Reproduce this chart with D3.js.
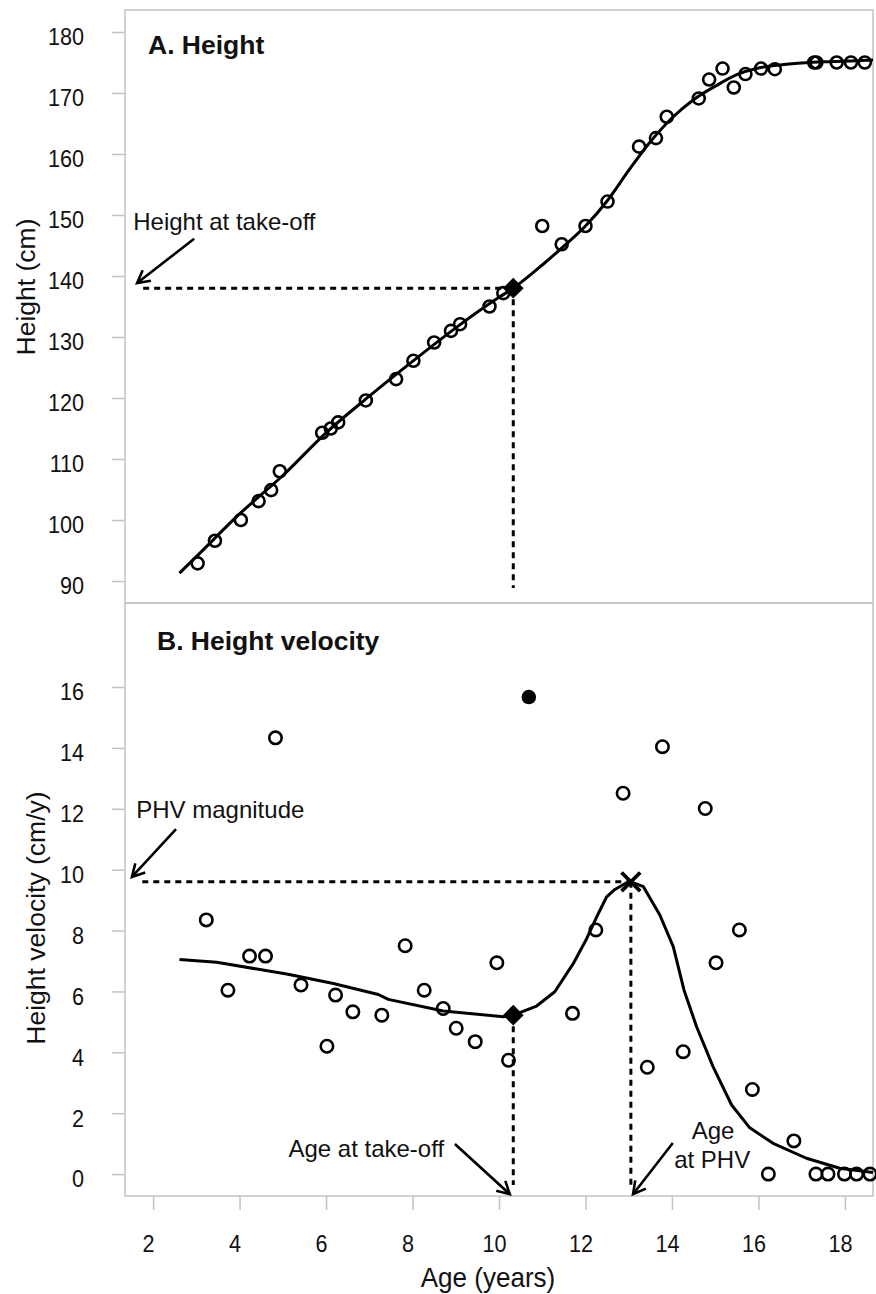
<!DOCTYPE html>
<html>
<head>
<meta charset="utf-8">
<script src="https://cdn.jsdelivr.net/npm/d3@7"></script>
<style>
body { margin: 0; background: #fff; }
text { font-family: "Liberation Sans", Arial, sans-serif; fill: #111; }
</style>
</head>
<body>
<div id="vis"></div>
<script>
// panel A: measured height
var heightAge = [3.03, 3.43, 4.03, 4.44, 4.73, 4.93, 5.91, 6.11, 6.28, 6.92, 7.62, 8.02, 8.50, 8.89, 9.10, 9.78, 10.10,
  11.00, 11.45, 12.00, 12.51, 13.24, 13.63, 13.88, 14.62, 14.86, 15.17, 15.43, 15.70, 16.06, 16.38, 17.29, 17.34, 17.81, 18.14, 18.46]
var heightCm = [92.9, 96.6, 100.0, 103.1, 104.9, 108.0, 114.3, 115.0, 116.0, 119.6, 123.1, 126.1, 129.1, 131.0, 132.1, 135.0, 137.2,
  148.2, 145.2, 148.2, 152.2, 161.2, 162.6, 166.1, 169.1, 172.2, 174.0, 170.9, 173.1, 174.0, 173.9, 175.0, 175.0, 175.0, 175.0, 175.0]

// fitted height curve
var fitAge = [2.61, 3, 4, 5, 6, 7, 8, 9, 10, 10.33, 11, 11.5, 12, 12.5, 13, 13.5, 14, 14.5, 15, 15.5, 16, 16.5, 17, 17.5, 18, 18.65]
var fitHeight = [91.3, 94.0, 101.0, 107.3, 114.3, 120.3, 126.0, 131.5, 136.5, 138.0, 141.8, 144.9, 148.2, 152.3, 157.3, 162.0, 165.9,
  168.9, 171.1, 173.0, 174.1, 174.6, 174.9, 175.1, 175.2, 175.4]

// panel B: velocity between visits
var velAge = [3.23, 3.73, 4.23, 4.60, 4.83, 5.42, 6.02, 6.22, 6.62, 7.29, 7.83, 8.27, 8.71, 9.01, 9.45, 9.95, 10.22,
  11.70, 12.24, 12.87, 13.43, 13.78, 14.26, 14.77, 15.02, 15.56, 15.86, 16.23, 16.82, 17.33, 17.61, 17.99, 18.27, 18.58]
var velCm = [8.35, 6.04, 7.16, 7.16, 14.33, 6.21, 4.20, 5.88, 5.33, 5.22, 7.50, 6.04, 5.44, 4.79, 4.35, 6.94, 3.74,
  5.28, 8.02, 12.51, 3.51, 14.04, 4.02, 12.01, 6.94, 8.02, 2.78, 0, 1.09, 0, 0, 0, 0, 0]
var outlierAge = [10.69]
var outlierVel = [15.67]

// fitted velocity curve
var fitVelAge = [2.61, 3.47, 5.09, 6.17, 7.21, 7.44, 8.71, 10.10, 10.33, 10.87, 11.29, 11.72, 12.03, 12.26, 12.49, 12.68, 12.95,
  13.05, 13.34, 13.72, 14.03, 14.28, 14.57, 14.95, 15.38, 15.80, 16.34, 17.11, 17.88, 18.65]
var fitVel = [7.05, 6.96, 6.57, 6.26, 5.90, 5.74, 5.36, 5.17, 5.22, 5.52, 5.99, 6.92, 7.74, 8.45, 9.11, 9.35, 9.57,
  9.60, 9.44, 8.51, 7.47, 6.04, 4.84, 3.53, 2.27, 1.52, 1.01, 0.52, 0.19, 0.05]

var takeoffAge = 10.33, takeoffHeight = 138.0, takeoffVel = 5.22
var phvAge = 13.05, phvVel = 9.6

var heightTicks = [90, 100, 110, 120, 130, 140, 150, 160, 170, 180]
var velTicks = [0, 2, 4, 6, 8, 10, 12, 14, 16]
var ageTicks = [2, 4, 6, 8, 10, 12, 14, 16, 18]

var w = 876
var h = 1294

var svg = d3.select("#vis")
.append("svg")
.attr("width", w)
.attr("height", h)

var x = d3.scaleLinear().domain([1.35, 18.65]).range([125, 873])
var yA = d3.scaleLinear().domain([86.4, 183.6]).range([603, 10])
var yB = d3.scaleLinear().domain([-0.72, 18.76]).range([1196, 603])

var grey = "#c3c3c3"

//frames
svg.append("rect")
.attr("x", x.range()[0]).attr("y", yA.range()[1])
.attr("width", x.range()[1] - x.range()[0]).attr("height", yA.range()[0] - yA.range()[1])
.attr("fill", "none").attr("stroke", grey).attr("stroke-width", 1.5)

svg.append("rect")
.attr("x", x.range()[0]).attr("y", yB.range()[1])
.attr("width", x.range()[1] - x.range()[0]).attr("height", yB.range()[0] - yB.range()[1])
.attr("fill", "none").attr("stroke", grey).attr("stroke-width", 1.5)

//axes (the source text is a little narrow, so squeeze it sideways)
function styleAxis(g) {
  g.select(".domain").remove()
  g.selectAll(".tick line").attr("stroke", grey).attr("stroke-width", 1.5)
  g.selectAll(".tick text").attr("font-size", 23).attr("font-family", "Liberation Sans, Arial, sans-serif")
  .attr("fill", "#111").attr("transform", "scale(0.94,1)")
}

svg.append("g")
.attr("transform", `translate(${x.range()[0]},0)`)
.call(d3.axisLeft(yA).tickValues(heightTicks).tickSize(13).tickPadding(30.5))
.call(styleAxis)
.selectAll(".tick text").attr("dy", "0.56em")

svg.append("g")
.attr("transform", `translate(${x.range()[0]},0)`)
.call(d3.axisLeft(yB).tickValues(velTicks).tickSize(13).tickPadding(30.5))
.call(styleAxis)
.selectAll(".tick text").attr("dy", "0.56em")

svg.append("g")
.attr("transform", `translate(0,${yB.range()[0]})`)
.call(d3.axisBottom(x).tickValues(ageTicks).tickSize(14).tickPadding(25.5))
.call(styleAxis)
.selectAll(".tick text").attr("dx", -5.3)

//axis titles
svg.append("text")
.attr("transform", "translate(35,287) rotate(-90)")
.attr("text-anchor", "middle").attr("font-size", 26.5)
.text("Height (cm)")

svg.append("text")
.attr("transform", "translate(45,918) rotate(-90)")
.attr("text-anchor", "middle").attr("font-size", 26.5)
.text("Height velocity (cm/y)")

svg.append("text")
.attr("transform", "translate(488,1287) scale(0.93,1)")
.attr("text-anchor", "middle").attr("font-size", 28)
.text("Age (years)")

//panel titles
svg.append("text")
.attr("x", 148).attr("y", 54)
.attr("font-size", 26.5).attr("font-weight", "bold")
.text("A. Height")

svg.append("text")
.attr("x", 157).attr("y", 650)
.attr("font-size", 26.5).attr("font-weight", "bold")
.text("B. Height velocity")

//dashed guides
var dash = "6,5"
function guide(x1, y1, x2, y2) {
  svg.append("line")
  .attr("x1", x1).attr("y1", y1).attr("x2", x2).attr("y2", y2)
  .attr("stroke", "#000").attr("stroke-width", 3).attr("stroke-dasharray", dash)
}
guide(x(1.77), yA(takeoffHeight), x(takeoffAge), yA(takeoffHeight))
guide(x(takeoffAge), yA(takeoffHeight), x(takeoffAge), yA(88.85))
guide(x(1.75), yB(phvVel), x(phvAge), yB(phvVel))
guide(x(phvAge), yB(phvVel), x(phvAge), yB(-0.36))
guide(x(takeoffAge), yB(takeoffVel), x(takeoffAge), yB(-0.36))

//fitted curves
var lineA = d3.line()
.x((d, i) => x(fitAge[i]))
.y(d => yA(d))
.curve(d3.curveMonotoneX)

svg.append("path")
.attr("d", lineA(fitHeight))
.attr("fill", "none").attr("stroke", "#000").attr("stroke-width", 3)

var lineB = d3.line()
.x((d, i) => x(fitVelAge[i]))
.y(d => yB(d))

svg.append("path")
.attr("d", lineB(fitVel))
.attr("fill", "none").attr("stroke", "#000").attr("stroke-width", 3).attr("stroke-linejoin", "round")

//points
svg.append("g").selectAll("circle")
.data(heightCm)
.enter()
.append("circle")
.attr("cx", (d, i) => x(heightAge[i]))
.attr("cy", d => yA(d))
.attr("r", 6)
.attr("fill", "none").attr("stroke", "#000").attr("stroke-width", 2.6)

svg.append("g").selectAll("circle")
.data(velCm)
.enter()
.append("circle")
.attr("cx", (d, i) => x(velAge[i]))
.attr("cy", d => yB(d))
.attr("r", 6.2)
.attr("fill", "none").attr("stroke", "#000").attr("stroke-width", 2.6)

svg.append("g").selectAll("circle")
.data(outlierVel)
.enter()
.append("circle")
.attr("cx", (d, i) => x(outlierAge[i]))
.attr("cy", d => yB(d))
.attr("r", 7.3)
.attr("fill", "#000")

//take-off diamonds and PHV cross
var diamond = d3.symbol().type(d3.symbolSquare).size(215)
svg.append("path")
.attr("d", diamond())
.attr("transform", `translate(${x(takeoffAge)},${yA(takeoffHeight)}) rotate(45)`)
.attr("fill", "#000")
svg.append("path")
.attr("d", diamond())
.attr("transform", `translate(${x(takeoffAge)},${yB(takeoffVel)}) rotate(45)`)
.attr("fill", "#000")

svg.append("path")
.attr("d", d3.symbol().type(d3.symbolX).size(230)())
.attr("transform", `translate(${x(phvAge)},${yB(phvVel)})`)
.attr("fill", "none").attr("stroke", "#000").attr("stroke-width", 3.8)

//annotations
function arrow(x1, y1, x2, y2) {
  var a = Math.atan2(y2 - y1, x2 - x1)
  var len = 14
  var p = d3.path()
  p.moveTo(x1, y1); p.lineTo(x2, y2)
  p.moveTo(x2 - len * Math.cos(a - 0.5), y2 - len * Math.sin(a - 0.5)); p.lineTo(x2, y2)
  p.lineTo(x2 - len * Math.cos(a + 0.5), y2 - len * Math.sin(a + 0.5))
  svg.append("path").attr("d", p.toString())
  .attr("fill", "none").attr("stroke", "#000").attr("stroke-width", 2.6)
}
function label(t, x0, y0, anchor) {
  svg.append("text").attr("x", x0).attr("y", y0)
  .attr("font-size", 24).attr("text-anchor", anchor).text(t)
}

label("Height at take-off", x(1.54), yA(147.5), "start")
arrow(x(2.95), yA(146.1), x(1.63), yA(138.85))

label("PHV magnitude", x(1.61), yB(11.7), "start")
arrow(x(2.53), yB(11.33), x(1.51), yB(9.76))

label("Age at take-off", x(8.73), yB(0.56), "end")
arrow(x(8.98), yB(0.99), x(10.25), yB(-0.66))

label("Age", x(14.95), yB(1.15), "middle")
label("at PHV", x(14.93), yB(0.2), "middle")
arrow(x(14.02), yB(1.02), x(13.1), yB(-0.66))
</script>
</body>
</html>
